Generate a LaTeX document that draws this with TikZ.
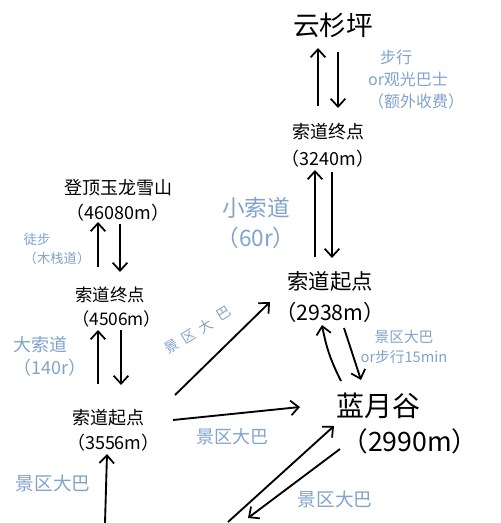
\documentclass[tikz,border=0pt]{standalone}
\usepackage{fontspec}
\setmainfont{Noto Sans CJK SC}
\usetikzlibrary{arrows.meta}
\definecolor{lblue}{RGB}{128,163,204}
\begin{document}
\begin{tikzpicture}[x=0.75pt,y=-0.75pt,
  place/.style={align=center,inner sep=0pt,text=black},
  note/.style={align=center,inner sep=0pt,text=lblue},
  rchar/.style={inner sep=0pt,text=lblue,rotate=32,font=\fontsize{10.5}{12}\selectfont},
  conn/.style={draw=black,line width=1.4pt,-{Straight Barb[length=6pt,width=11pt,line width=1.3pt]}}]
\useasboundingbox (0,0) rectangle (500,523);
% places
\node[place,font=\fontsize{20}{22}\selectfont] (ysp) at (333,25) {云杉坪};
\node[place,font=\fontsize{13.5}{20}\selectfont] (zd1) at (328,145) {索道终点\\（3240m）};
\node[place,font=\fontsize{16}{23}\selectfont] (qd1) at (330,297) {索道起点\\（2938m）};
\node[place,font=\fontsize{21}{24}\selectfont] (lyg) at (378,406) {蓝月谷};
\node[place,font=\fontsize{20}{24}\selectfont] (lygh) at (410,441) {（2990m）};
\node[place,font=\fontsize{13.5}{19}\selectfont] (dd) at (118,200) {登顶玉龙雪山\\（46080m）};
\node[place,font=\fontsize{13}{18}\selectfont] (zd2) at (110,307) {索道终点\\\hspace*{10pt}（4506m）};
\node[place,font=\fontsize{13.5}{19}\selectfont] (qd2) at (108,430) {索道起点\\\hspace*{8pt}（3556m）};
% notes
\node[note,font=\fontsize{12}{16.5}\selectfont] (n1) at (408,80) {步行\hspace*{18pt}\\or观光巴士\\\hspace*{12pt}（额外收费）};
\node[note,font=\fontsize{17}{22}\selectfont] (n2) at (256,223) {小索道\\（60r）};
\node[note,font=\fontsize{11}{15.5}\selectfont] (n3) at (404,347) {景区大巴\\or步行15min};
\node[note,font=\fontsize{10}{14}\selectfont,align=left] (n4) at (57,249) {徒步\\（木栈道）};
\node[note,font=\fontsize{13.5}{17}\selectfont,align=left] (n5) at (50,356) {大索道\\（140r）};
\node[note,font=\fontsize{14}{18}\selectfont] (n6) at (53,483) {景区大巴};
\node[rchar] (r1) at (172,346) {景};
\node[rchar] (r2) at (189,336) {区};
\node[rchar] (r3) at (206,326) {大};
\node[rchar] (r4) at (224,314) {巴};
\node[note,font=\fontsize{13.5}{18}\selectfont] (n8) at (232,437) {景区大巴};
\node[note,font=\fontsize{14}{18}\selectfont] (n9) at (335,499) {景区大巴};
% connector anchors
\coordinate (a1) at (318,106); \coordinate (a2) at (318,48);
\coordinate (b1) at (338,52); \coordinate (b2) at (338,108);
\coordinate (c1) at (315,257); \coordinate (c2) at (315,170);
\coordinate (d1) at (332,172); \coordinate (d2) at (332,258);
\coordinate (e1) at (341,381); \coordinate (e2) at (322,325);
\coordinate (f1) at (344,328); \coordinate (f2) at (361,380);
\coordinate (g1) at (98,267); \coordinate (g2) at (98,222);
\coordinate (h1) at (120,224); \coordinate (h2) at (120,272);
\coordinate (i1) at (98,384); \coordinate (i2) at (98,330);
\coordinate (j1) at (121,330); \coordinate (j2) at (121,385);
\coordinate (k1) at (105,523); \coordinate (k2) at (107,454);
\coordinate (l1) at (175,395); \coordinate (l2) at (270,302);
\coordinate (m1) at (173,420); \coordinate (m2) at (300,407);
\coordinate (o1) at (228,522); \coordinate (o2) at (334,426);
\coordinate (p1) at (340,449); \coordinate (p2) at (248,518);
% connectors
\draw[conn] (a1) -- (a2);
\draw[conn] (b1) -- (b2);
\draw[conn] (c1) -- (c2);
\draw[conn] (d1) -- (d2);
\draw[conn] (e1) to[bend left=8] (e2);
\draw[conn] (f1) -- (f2);
\draw[conn] (g1) -- (g2);
\draw[conn] (h1) -- (h2);
\draw[conn] (i1) -- (i2);
\draw[conn] (j1) -- (j2);
\draw[conn] (k1) -- (k2);
\draw[conn] (l1) -- (l2);
\draw[conn] (m1) -- (m2);
\draw[conn] (o1) -- (o2);
\draw[conn] (p1) -- (p2);
\end{tikzpicture}
\end{document}
